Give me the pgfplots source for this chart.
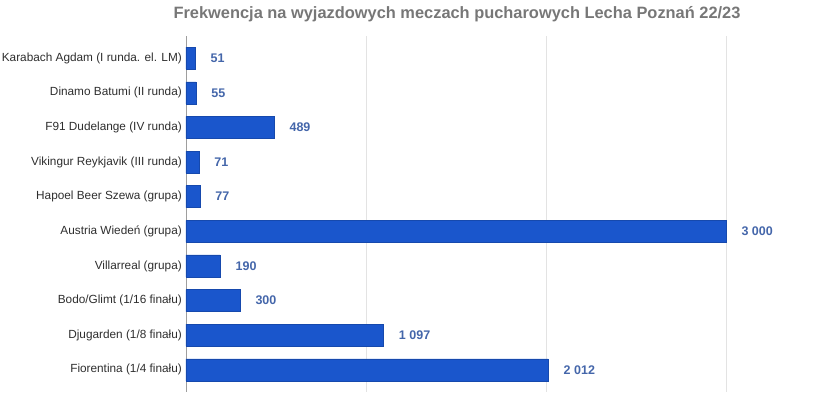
\documentclass[border=0pt]{standalone}
\usepackage{pgfplots}
\pgfplotsset{compat=1.18}
\usepackage{pgfplotstable}
\usepackage{fontspec}
\setmainfont{Liberation Sans}
\definecolor{barblue}{HTML}{1A56CC}
\definecolor{lblblue}{HTML}{4466AA}
\definecolor{titlegray}{HTML}{777777}
\definecolor{gridgray}{HTML}{E3E3E3}
\definecolor{axgray}{HTML}{9E9E9E}
\definecolor{tickgray}{HTML}{2E2E2E}
\pgfplotstableread[col sep=comma]{
idx,val,lbl
0,51,51
1,55,55
2,489,489
3,71,71
4,77,77
5,3000,3 000
6,190,190
7,300,300
8,1097,1 097
9,2012,2 012
}\data
\begin{document}
\begin{tikzpicture}
\useasboundingbox (0,0) rectangle (827pt,397pt);
\node[font=\bfseries\fontsize{16.4}{18}\selectfont, text=titlegray] at (457pt,383pt) {Frekwencja na wyjazdowych meczach pucharowych Lecha Poznań 22/23};
\begin{axis}[
  at={(186pt,5pt)}, anchor=south west,
  scale only axis, width=630pt, height=356pt,
  xbar, bar width=22pt,
  xmin=0, xmax=3500,
  ymin=-0.64, ymax=9.64, y dir=reverse,
  axis lines=left,
  separate axis lines,
  x axis line style={draw=none},
  y axis line style={draw=axgray, line width=0.8pt, -},
  xtick={1000,2000,3000}, xticklabels={},
  xmajorgrids, grid style={gridgray, line width=0.8pt},
  ytick={0,...,9},
  yticklabels={Karabach Agdam (I runda. el. LM),Dinamo Batumi (II runda),F91 Dudelange (IV runda),Vikingur Reykjavik (III runda),Hapoel Beer Szewa (grupa),Austria Wiedeń (grupa),Villarreal (grupa),Bodo/Glimt (1/16 finału),Djugarden (1/8 finału),Fiorentina (1/4 finału)},
  major tick length=0pt,
  yticklabel style={font=\fontsize{11.8}{13}\selectfont, text=tickgray, inner sep=0pt, xshift=-4pt},
  nodes near coords,
  point meta=explicit symbolic,
  nodes near coords style={font=\bfseries\fontsize{12.5}{14}\selectfont, text=lblblue, anchor=west, xshift=12pt},
]
\addplot[fill=barblue, draw=barblue!85!black, line width=0.4pt] table[x=val, y=idx, meta=lbl] {\data};
\end{axis}
\end{tikzpicture}
\end{document}
